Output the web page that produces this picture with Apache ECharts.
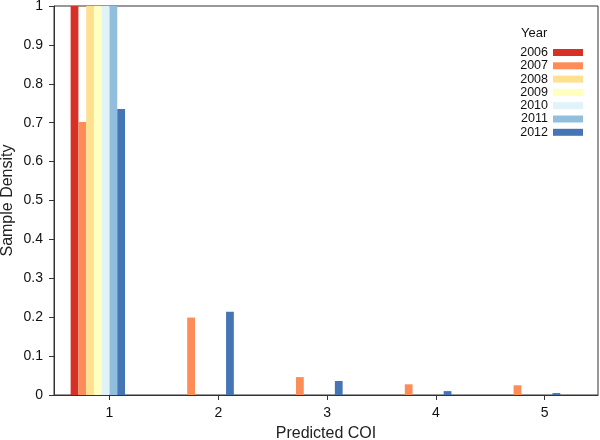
<!DOCTYPE html>
<html>
<head>
<meta charset="utf-8">
<script src="https://cdn.jsdelivr.net/npm/echarts@6/dist/echarts.min.js"></script>
<style>html,body{margin:0;padding:0;background:#fff}#c{width:600px;height:440px}</style>
</head>
<body>
<div id="c"></div>
<script>
const coiValues = [1, 2, 3, 4, 5];
const xTicks = [1, 2, 3, 4, 5];
const yearNames = ['2006', '2007', '2008', '2009', '2010', '2011', '2012'];
const d2006 = [1, 0, 0, 0, 0];
const d2007 = [0.702, 0.199, 0.046, 0.0275, 0.025];
const d2008 = [1, 0, 0, 0, 0];
const d2009 = [1, 0, 0, 0, 0];
const d2010 = [1, 0, 0, 0, 0];
const d2011 = [1, 0, 0, 0, 0];
const d2012 = [0.735, 0.214, 0.036, 0.010, 0.005];
const yearData = [d2006, d2007, d2008, d2009, d2010, d2011, d2012];
const yearColors = ['#d73027', '#fc8d59', '#fee090', '#ffffbf', '#e0f3f8', '#91bfdb', '#4575b4'];

const FONT = '"Liberation Sans", Arial, Helvetica, sans-serif';
const BAR_W = 1 / 14; // bar width in axis units

const series = yearNames.map((name, yi) => ({
  name: name,
  type: 'custom',
  itemStyle: { color: yearColors[yi] },
  clip: true,
  encode: { x: 0, y: 1 },
  data: coiValues.map((c, i) => [c, yearData[yi][i]]),
  renderItem: function (params, api) {
    const c = api.value(0), v = api.value(1);
    if (!v) return null;
    const left = c + (yi - 5) * BAR_W;
    const p0 = api.coord([left, 0]);
    const p1 = api.coord([left + BAR_W, v]);
    const rect = echarts.graphic.clipRectByRect({
      x: p0[0], y: p1[1], width: p1[0] - p0[0], height: p0[1] - p1[1]
    }, params.coordSys);
    return rect && {
      type: 'rect',
      shape: rect,
      style: { fill: yearColors[yi] }
    };
  }
}));

const chart = echarts.init(document.getElementById('c'));
chart.setOption({
  animation: false,
  backgroundColor: '#fff',
  textStyle: { fontFamily: FONT },
  title: {
    text: 'Year', left: 516, top: 22,
    textStyle: { fontFamily: FONT, fontSize: 13, fontWeight: 'normal', color: '#111' }
  },
  legend: {
    orient: 'vertical', right: 12, top: 41,
    align: 'right', icon: 'rect',
    itemWidth: 30, itemHeight: 7, itemGap: 0.3,
    textStyle: { fontFamily: FONT, fontSize: 12.5, color: '#111', lineHeight: 12, padding: [0, 0, 0, 0] },
    data: yearNames.map((n, i) => ({ name: n, itemStyle: { color: yearColors[i] } }))
  },
  grid: {
    left: 54, right: 2, top: 6, bottom: 45,
    outerBoundsMode: 'none', containLabel: false,
    show: true, borderColor: '#333', borderWidth: 1, backgroundColor: 'transparent'
  },
  xAxis: {
    type: 'value', min: 0.49, max: 5.49,
    name: 'Predicted COI', nameLocation: 'middle', nameGap: 31, nameMoveOverlap: false,
    nameTextStyle: { fontFamily: FONT, fontSize: 16, color: '#222' },
    splitLine: { show: false },
    axisLine: { show: true, lineStyle: { color: '#333' } },
    axisTick: { show: true, length: 5, customValues: xTicks, lineStyle: { color: '#333' } },
    axisLabel: { customValues: xTicks, margin: 11, fontSize: 14, color: '#111', fontFamily: FONT }
  },
  yAxis: {
    type: 'value', min: 0, max: 1, interval: 0.1,
    name: 'Sample Density', nameLocation: 'middle', nameGap: 38, nameMoveOverlap: false,
    nameTextStyle: { fontFamily: FONT, fontSize: 16, color: '#222' },
    splitLine: { show: false },
    axisLine: { show: true, lineStyle: { color: '#333' } },
    axisTick: { show: true, length: 5, lineStyle: { color: '#333' } },
    axisLabel: { margin: 11, fontSize: 14, color: '#111', fontFamily: FONT,
      formatter: v => String(Math.round(v * 10) / 10) }
  },
  series: series
});
</script>
</body>
</html>
